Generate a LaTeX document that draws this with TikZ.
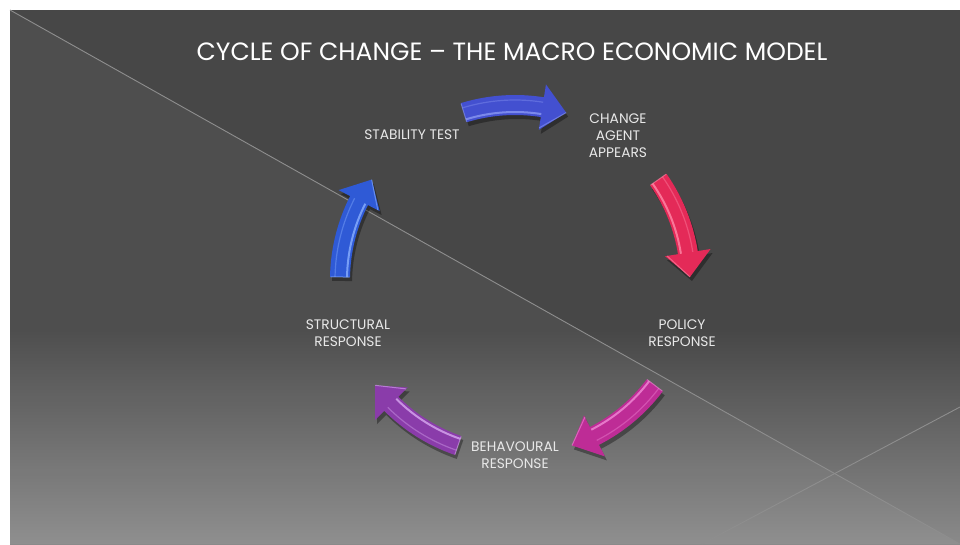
\documentclass[tikz,border=0pt]{standalone}
\usepackage{fontspec}
\setmainfont{Poppins}
\definecolor{bgtop}{HTML}{474747}
\definecolor{bgbot}{HTML}{8A8A8A}
\definecolor{linec}{HTML}{8E8E8E}
\definecolor{txt}{HTML}{E8E8E8}
\definecolor{blueA}{HTML}{4350D0}
\definecolor{blueAl}{HTML}{8A98F2}
\definecolor{redA}{HTML}{E42A58}
\definecolor{redAl}{HTML}{FF8AA8}
\definecolor{magA}{HTML}{BE2C96}
\definecolor{magAl}{HTML}{F08AD6}
\definecolor{purA}{HTML}{8A3CAA}
\definecolor{purAl}{HTML}{D8A8F0}
\definecolor{blueB}{HTML}{2F5AD6}
\definecolor{blueBl}{HTML}{8AB0FF}
\tikzset{
  lbl/.style={text=txt, align=center, font=\fontsize{13.8}{17}\selectfont, inner sep=0pt},
  ttl/.style={text=white, font=\fontsize{25}{28}\selectfont, inner sep=0pt},
  guide/.style={draw=linec, line width=0.9pt}
}
\newcommand\cycarrow[3]{%
  \pgfmathsetmacro\ta{#1-90-17}%
  \pgfmathsetmacro\tb{#1-90+9}%
  \pgfmathsetmacro\tc{#1-90+17}%
  \begin{scope}[shift={(515,280)}]
    \fill[black,opacity=.35,shift={(2,4)}] (\ta:185) arc[start angle=\ta,end angle=\tb,radius=185] -- (\tb:198) -- (\tc:175) -- (\tb:152) -- (\tb:165) arc[start angle=\tb,end angle=\ta,radius=165] -- cycle;
    \fill[#2] (\ta:185) arc[start angle=\ta,end angle=\tb,radius=185] -- (\tb:198) -- (\tc:175) -- (\tb:152) -- (\tb:165) arc[start angle=\tb,end angle=\ta,radius=165] -- cycle;
    \draw[#3,line width=2pt,opacity=.8] (\ta:168) arc[start angle=\ta,end angle=\tb,radius=168];
    \draw[#3,line width=1.2pt,opacity=.4] (\ta:180) arc[start angle=\ta,end angle=\tb,radius=180];
    \draw[#3,line width=1pt,opacity=.6] (\ta:184.5) -- (\ta:165.5);
    \draw[#3,line width=1pt,opacity=.6] (\tb:154) -- (\tc:175);
  \end{scope}}
\begin{document}
\begin{tikzpicture}[x=1pt,y=-1pt]
\useasboundingbox (0,0) rectangle (960,544);
\fill[white] (0,0) rectangle (960,544);
\fill[bgtop] (10,10) rectangle (960,544);
\shade[top color=bgtop,bottom color=bgbot] (10,330) rectangle (960,544);
\fill[white,opacity=.045] (10,10) -- (960,544) -- (10,544) -- cycle;
\coordinate (d1) at (10,10);
\coordinate (d2) at (960,544);
\coordinate (e1) at (702,544);
\coordinate (e2) at (960,407);
\draw[guide] (d1) -- (d2);
\draw[guide] (e1) -- (e2);
\node[ttl] (title) at (512,52) {CYCLE OF CHANGE – THE MACRO ECONOMIC MODEL};
\cycarrow{0}{blueA}{blueAl}
\cycarrow{72}{redA}{redAl}
\cycarrow{144}{magA}{magAl}
\cycarrow{216}{purA}{purAl}
\cycarrow{288}{blueB}{blueBl}
\node[lbl] (stab) at (412,135) {STABILITY TEST};
\node[lbl] (chg) at (618,136) {CHANGE\\AGENT\\APPEARS};
\node[lbl] (pol) at (682,333) {POLICY\\RESPONSE};
\node[lbl] (beh) at (515,455) {BEHAVOURAL\\RESPONSE};
\node[lbl] (str) at (348,333) {STRUCTURAL\\RESPONSE};
\end{tikzpicture}
\end{document}
